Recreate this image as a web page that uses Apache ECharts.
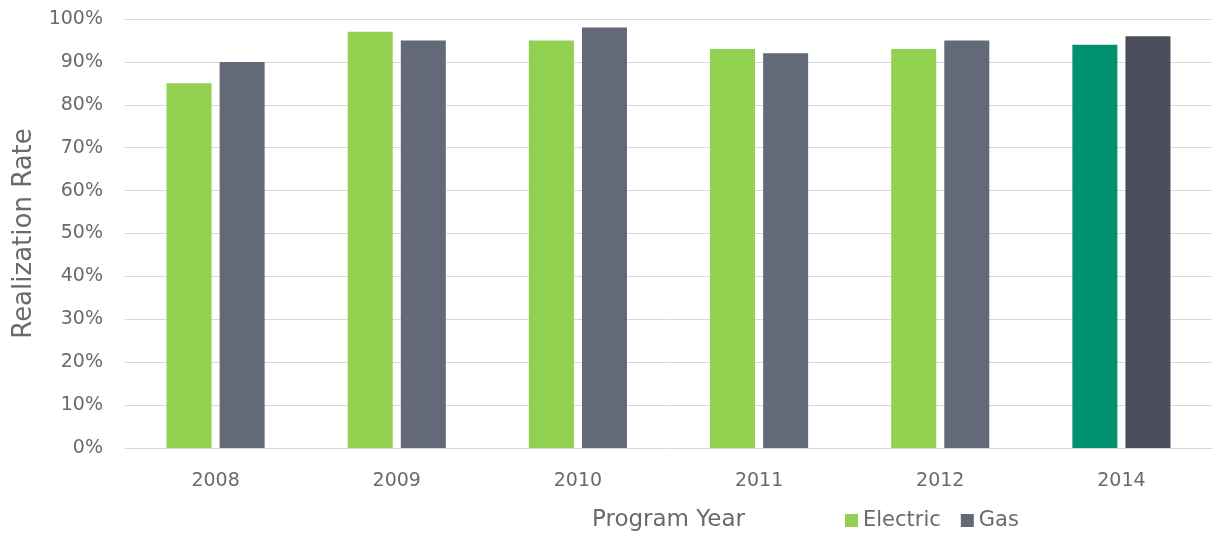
<!DOCTYPE html>
<html><head><meta charset="utf-8">
<script src="https://cdn.jsdelivr.net/npm/echarts@6/dist/echarts.min.js"></script>
<style>html,body{margin:0;padding:0;background:#fff}#c{width:1214px;height:535px}</style>
</head><body><div id="c"></div>
<script>
const categories = ['2008','2009','2010','2011','2012','2014'];
const electric = [85, 97, 95, 93, 93, 94];
const gas = [90, 95, 98, 92, 95, 96];
const yTicks = [0,10,20,30,40,50,60,70,80,90,100];

const colE = '#92D050', colG = '#636978';
const colEHi = '#00916E', colGHi = '#4B4E5A';
const font = '"DejaVu Sans", sans-serif';
const txt = '#6A6A6A';
const chart = echarts.init(document.getElementById('c'));
chart.setOption({
  animation: false,
  textStyle: { fontFamily: font },
  grid: { left: 125, right: 2, top: 19, bottom: 87, containLabel: false, outerBoundsMode: 'none' },
  legend: {
    data: ['Electric','Gas'], left: 840, top: 505, itemWidth: 13, itemHeight: 13, itemGap: 20,
    icon: 'rect', textStyle: { color: txt, fontSize: 21, fontFamily: font }
  },
  xAxis: {
    type: 'category', data: categories,
    name: 'Program Year', nameLocation: 'middle', nameGap: 61,
    nameTextStyle: { color: txt, fontSize: 23, fontFamily: font },
    axisLine: { lineStyle: { color: '#D9D9D9' } }, axisTick: { show: false },
    axisLabel: { color: txt, fontSize: 19, margin: 24 }
  },
  yAxis: {
    type: 'value', min: 0, max: 100, interval: 10,
    name: 'Realization Rate', nameLocation: 'middle', nameGap: 88,
    nameTextStyle: { color: txt, fontSize: 26, fontFamily: font },
    splitLine: { lineStyle: { color: '#D9D9D9' } },
    axisLabel: { color: txt, fontSize: 19, margin: 22, formatter: v => yTicks.includes(v) ? v + '%' : '' }
  },
  series: [
    { name: 'Electric', type: 'bar', barWidth: 45, barGap: '18%', itemStyle: { color: colE },
      data: electric.map((v, i) => i === categories.length - 1 ? { value: v, itemStyle: { color: colEHi } } : v) },
    { name: 'Gas', type: 'bar', barWidth: 45, itemStyle: { color: colG },
      data: gas.map((v, i) => i === categories.length - 1 ? { value: v, itemStyle: { color: colGHi } } : v) }
  ]
});
</script></body></html>
